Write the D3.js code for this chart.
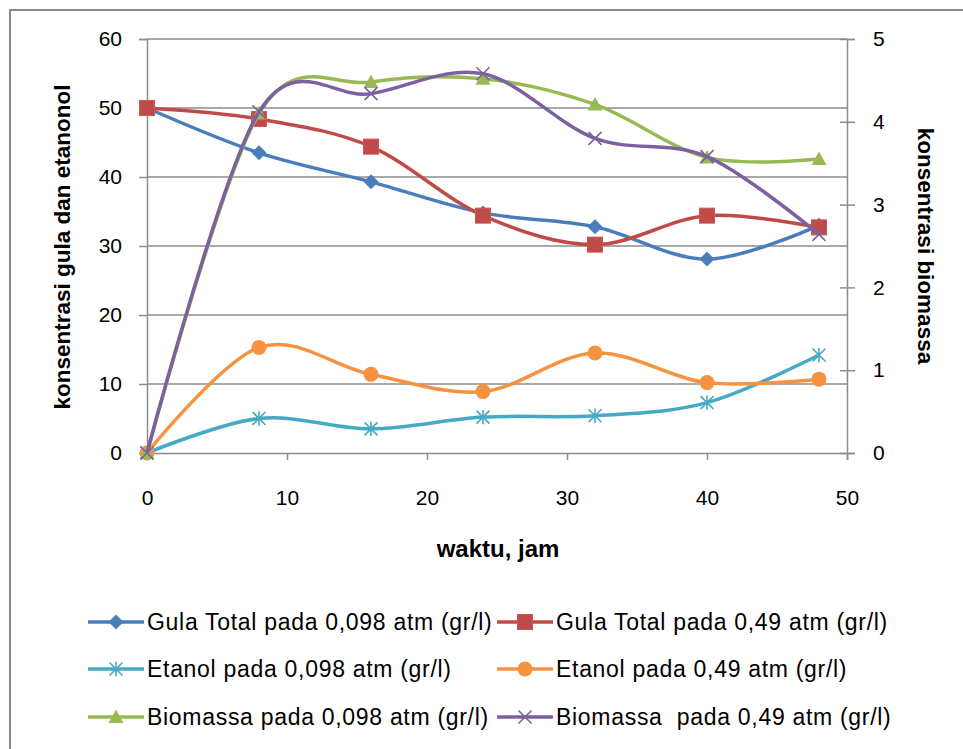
<!DOCTYPE html>
<html>
<head>
<meta charset="utf-8">
<script src="https://cdn.jsdelivr.net/npm/d3@7"></script>
<style>
  body { margin: 0; background: #fff; }
  text { font-family: "Liberation Sans", Arial, sans-serif; fill: #000; }
</style>
</head>
<body>
<div class="chart"></div>
<script>
// data
var hours = [0, 8, 16, 24, 32, 40, 48];
var gulaLow = [50, 43.5, 39.3, 34.8, 32.8, 28.1, 33.0];
var gulaHigh = [50, 48.4, 44.4, 34.4, 30.2, 34.4, 32.7];
var etanolLow = [0, 5.0, 3.5, 5.2, 5.4, 7.3, 14.2];
var etanolHigh = [0, 15.3, 11.4, 8.9, 14.5, 10.2, 10.7];
var biomassaLow = [0, 4.1, 4.48, 4.52, 4.21, 3.57, 3.55];
var biomassaHigh = [0, 4.12, 4.34, 4.58, 3.8, 3.58, 2.64];
var xTicks = [0, 10, 20, 30, 40, 50];
var yTicks = [0, 10, 20, 30, 40, 50, 60];
var y2Ticks = [0, 1, 2, 3, 4, 5];

var series = [
  {name: "Gula Total pada 0,098 atm (gr/l)", values: gulaLow, axis: "left", color: "#4A7EBB", marker: "diamond"},
  {name: "Gula Total pada 0,49 atm (gr/l)", values: gulaHigh, axis: "left", color: "#BE4B48", marker: "square"},
  {name: "Etanol pada 0,098 atm (gr/l)", values: etanolLow, axis: "left", color: "#46AAC5", marker: "star"},
  {name: "Etanol pada 0,49 atm (gr/l)", values: etanolHigh, axis: "left", color: "#F69240", marker: "circle"},
  {name: "Biomassa pada 0,098 atm (gr/l)", values: biomassaLow, axis: "right", color: "#98B954", marker: "triangle"},
  {name: "Biomassa  pada 0,49 atm (gr/l)", values: biomassaHigh, axis: "right", color: "#7D60A0", marker: "x"}
];

var W = 963, H = 749;
var margin = {top: 39, left: 147, right: 116, bottom: 296};
var width = W - margin.left - margin.right,
    height = H - margin.top - margin.bottom;

var x = d3.scaleLinear().domain([0, 50]).range([0, width]);
var y = d3.scaleLinear().domain([0, 60]).range([height, 0]);
var y2 = d3.scaleLinear().domain([0, 5]).range([height, 0]);

var svg = d3.select(".chart").append("svg")
    .attr("width", W)
    .attr("height", H);

// outer chart border (cropped at right and bottom)
svg.append("rect")
    .attr("x", 10).attr("y", 10)
    .attr("width", W + 20).attr("height", H + 20)
    .attr("fill", "none")
    .attr("stroke", "#888")
    .attr("stroke-width", 2);

var g = svg.append("g")
    .attr("transform", "translate(" + margin.left + "," + margin.top + ")");

// gridlines
g.selectAll(".grid").data(yTicks.slice(1)).enter().append("line")
    .attr("x1", 0).attr("x2", width)
    .attr("y1", function(d) { return y(d); })
    .attr("y2", function(d) { return y(d); })
    .attr("stroke", "#8c8c8c")
    .attr("stroke-width", 1.5);

// axes
var axisLeft = g.append("g").call(d3.axisLeft(y).tickValues(yTicks).tickSize(8).tickPadding(17));
var axisRight = g.append("g")
    .attr("transform", "translate(" + width + ",0)")
    .call(d3.axisRight(y2).tickValues(y2Ticks).tickFormat(d3.format("d")).tickSize(8).tickPadding(18));
var axisBottom = g.append("g")
    .attr("transform", "translate(0," + height + ")")
    .call(d3.axisBottom(x).tickValues(xTicks).tickSize(7).tickPadding(30));

[axisLeft, axisRight, axisBottom].forEach(function(a) {
  a.select(".domain").attr("stroke", "#8c8c8c").attr("stroke-width", 1.5);
  a.selectAll(".tick line").attr("stroke", "#8c8c8c").attr("stroke-width", 1.5);
  a.selectAll(".tick text").style("font-size", "21px").style("font-family", "'Liberation Sans', Arial, sans-serif");
});
// right axis ticks cross the axis line
axisRight.selectAll(".tick line").attr("x1", -7);

// smoothed lines
function lineFor(s) {
  var yy = s.axis === "left" ? y : y2;
  return d3.line()
      .x(function(d, i) { return x(hours[i]); })
      .y(function(d) { return yy(d); })
      .curve(d3.curveCardinal.tension(0));
}

function drawMarker(sel, type, color, size) {
  var r = size;
  if (type === "diamond") {
    sel.append("path").attr("d", "M0," + (-r) + "L" + r + ",0L0," + r + "L" + (-r) + ",0Z").attr("fill", color);
  } else if (type === "square") {
    sel.append("rect").attr("x", -r).attr("y", -r).attr("width", 2 * r).attr("height", 2 * r)
        .attr("fill", color).attr("stroke", d3.color(color).brighter(0.3)).attr("stroke-width", 1);
  } else if (type === "circle") {
    sel.append("circle").attr("r", r).attr("fill", color);
  } else if (type === "triangle") {
    sel.append("path").attr("d", "M0," + (-r) + "L" + r + "," + (r * 0.8) + "L" + (-r) + "," + (r * 0.8) + "Z").attr("fill", color);
  } else if (type === "x") {
    sel.append("path").attr("d", "M" + (-r) + "," + (-r) + "L" + r + "," + r + "M" + (-r) + "," + r + "L" + r + "," + (-r))
        .attr("stroke", color).attr("stroke-width", 1.6).attr("fill", "none");
  } else if (type === "star") {
    sel.append("path").attr("d", "M" + (-r) + "," + (-r) + "L" + r + "," + r + "M" + (-r) + "," + r + "L" + r + "," + (-r) + "M0," + (-r * 1.1) + "L0," + (r * 1.1))
        .attr("stroke", color).attr("stroke-width", 1.6).attr("fill", "none");
  }
}

series.forEach(function(s) {
  var yy = s.axis === "left" ? y : y2;
  g.append("path")
      .datum(s.values)
      .attr("d", lineFor(s))
      .attr("fill", "none")
      .attr("stroke", s.color)
      .attr("stroke-width", 3.5);
  g.selectAll(null).data(s.values).enter().append("g")
      .attr("transform", function(d, i) { return "translate(" + x(hours[i]) + "," + yy(d) + ")"; })
      .each(function() { drawMarker(d3.select(this), s.marker, s.color, s.marker === "x" || s.marker === "star" ? 6.5 : 7.5); });
});

// axis titles
svg.append("text")
    .attr("transform", "translate(70," + (margin.top + height / 2 + 1) + ") rotate(-90)")
    .attr("text-anchor", "middle")
    .style("font-size", "22.5px").style("font-weight", "bold")
    .text("konsentrasi gula dan etanonol");

svg.append("text")
    .attr("transform", "translate(918," + (margin.top + height / 2) + ") rotate(90)")
    .attr("text-anchor", "middle")
    .style("font-size", "22.5px").style("font-weight", "bold")
    .text("konsentrasi biomassa");

svg.append("text")
    .attr("x", 498).attr("y", 557)
    .attr("text-anchor", "middle")
    .style("font-size", "24px").style("font-weight", "bold")
    .text("waktu, jam");

// legend
var legendX = [88, 497], legendY = [622, 669, 717];
var legend = svg.selectAll(".legend").data(series).enter().append("g")
    .attr("transform", function(d, i) { return "translate(" + legendX[i % 2] + "," + legendY[Math.floor(i / 2)] + ")"; });
legend.append("line")
    .attr("x1", 0).attr("x2", 56)
    .attr("stroke", function(d) { return d.color; })
    .attr("stroke-width", 3.5);
legend.each(function(d) {
  var m = d3.select(this).append("g").attr("transform", "translate(28,0)");
  drawMarker(m, d.marker, d.color, d.marker === "x" || d.marker === "star" ? 6.5 : 7.5);
});
legend.append("text")
    .attr("x", 59).attr("dy", "0.35em")
    .style("font-size", "23px")
    .style("letter-spacing", "0.7px")
    .style("white-space", "pre")
    .text(function(d) { return d.name; });
</script>
</body>
</html>
